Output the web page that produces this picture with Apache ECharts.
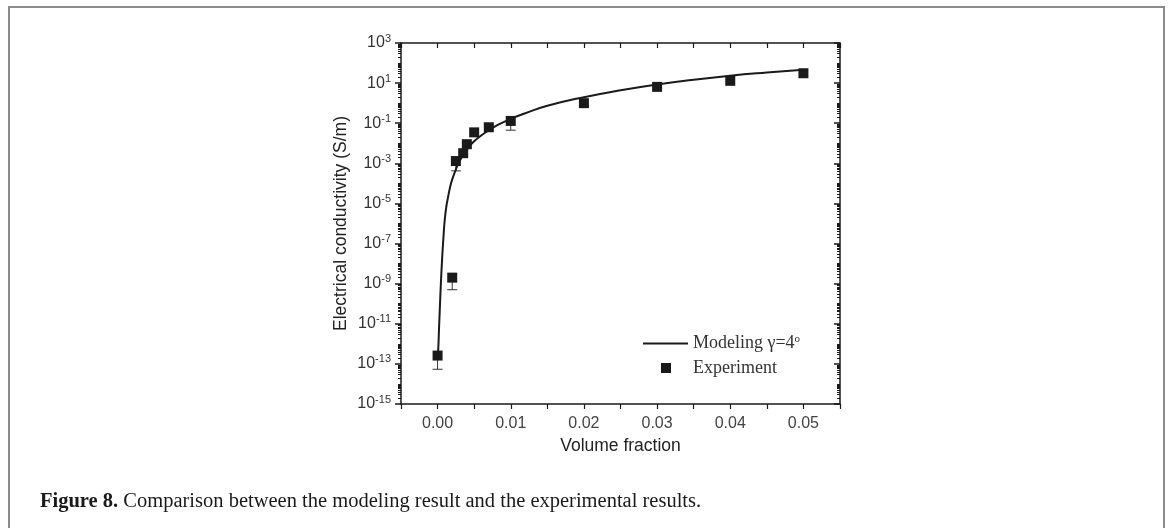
<!DOCTYPE html>
<html lang="en" style="height: 100%">
<head>
  <meta charset="utf-8">
</head>
<body style="height: 100%; margin: 0; background: #fff">
  <div id="container" style="width: 1170px; height: 528px"></div>

  <script type="text/javascript" src="https://cdn.jsdelivr.net/npm/echarts@6/dist/echarts.min.js"></script>
  <script type="text/javascript">
    // volume fraction ticks (labelled ones)
    const xTickLabels = ['0.00', '0.01', '0.02', '0.03', '0.04', '0.05'];
    // y axis labels: exponents of 10 (S/m)
    const yExponents = [-15, -13, -11, -9, -7, -5, -3, -1, 1, 3];

    // modeling curve: volume fraction / log10(sigma)
    const modelX = [0, 0.0001, 0.0002, 0.0003, 0.0004, 0.0005, 0.0006, 0.0007, 0.0008, 0.0009,
      0.001, 0.0012, 0.0014, 0.0017, 0.002, 0.0025, 0.003, 0.004, 0.005, 0.006, 0.007, 0.008,
      0.01, 0.012, 0.015, 0.02, 0.025, 0.03, 0.035, 0.04, 0.045, 0.05];
    const modelLog10 = [-12.7, -12.2, -11.2, -10.3, -9.4, -8.6, -7.9, -7.25, -6.7, -6.15,
      -5.75, -5.15, -4.75, -4.2, -3.8, -3.3, -2.9, -2.3, -1.9, -1.6, -1.35, -1.13,
      -0.78, -0.5, -0.13, 0.3, 0.64, 0.93, 1.17, 1.37, 1.53, 1.67];

    // experiment (S/m) and lower end of the error bar
    const exptX = [0, 0.002, 0.0025, 0.0035, 0.004, 0.005, 0.007, 0.01, 0.02, 0.03, 0.04, 0.05];
    const exptSigma = [2.6e-13, 2e-9, 1.3e-3, 3.2e-3, 9e-3, 3.5e-2, 6.3e-2, 0.13, 1.0, 6.5, 13, 31];
    const exptLow = [5.4e-14, 5e-10, 4.2e-4, null, null, null, null, 0.045, 0.72, null, null, null];

    const dom = document.getElementById('container');
    const myChart = echarts.init(dom, null, { renderer: 'canvas' });

    const ink = '#1a1a1a';
    const sans = 'Liberation Sans';
    const serif = 'Liberation Serif';

    // log sub ticks 2..9 inside each decade, plus the even decades
    const minorY = [];
    for (let n = -15; n < 3; n++) {
      for (let k = 1; k <= 9; k++) {
        if (k === 1 && (n % 2 !== 0)) continue;
        minorY.push(n + Math.log10(k));
      }
    }

    const modelData = modelX.map((x, i) => [x, modelLog10[i]]);
    const exptData = exptX.map((x, i) => [x, Math.log10(exptSigma[i])]);
    const errData = [];
    exptX.forEach((x, i) => {
      if (exptLow[i] != null) errData.push([x, Math.log10(exptSigma[i]), Math.log10(exptLow[i])]);
    });

    const renderErr = (params, api) => {
      const top = api.coord([api.value(0), api.value(1)]);
      const bot = api.coord([api.value(0), api.value(2)]);
      const st = { stroke: '#333', lineWidth: 1 };
      return {
        type: 'group',
        children: [
          { type: 'line', shape: { x1: top[0], y1: top[1], x2: bot[0], y2: bot[1] }, style: st },
          { type: 'line', shape: { x1: bot[0] - 5, y1: bot[1], x2: bot[0] + 5, y2: bot[1] }, style: st }
        ]
      };
    };

    const yLabelRich = {
      b: { fontFamily: sans, fontSize: 16, color: '#333' },
      s: { fontFamily: sans, fontSize: 11, color: '#333', padding: [0, 0, 9, 0] }
    };

    const baseY = {
      type: 'value', min: -15, max: 3, interval: 2,
      splitLine: { show: false }
    };
    const baseX = {
      type: 'value', min: -0.005, max: 0.055, interval: 0.005,
      splitLine: { show: false }
    };

    const option = {
      backgroundColor: '#fff',
      animation: false,
      title: {
        text: '{b|Figure 8.} Comparison between the modeling result and the experimental results.',
        left: 35,
        top: 486,
        textStyle: {
          fontFamily: serif, fontSize: 20.5, fontWeight: 'normal', color: '#1a1a1a',
          rich: { b: { fontFamily: serif, fontSize: 20.5, fontWeight: 'bold', color: '#1a1a1a' } }
        }
      },
      graphic: [
        {
          type: 'polyline',
          shape: { points: [[9, 528], [9, 7], [1164, 7], [1164, 528]] },
          style: { stroke: '#8c8c8c', lineWidth: 2, fill: null }
        }
      ],
      grid: { left: 401, top: 43, right: 330, bottom: 124 },
      legend: [
        {
          data: [{ name: 'Modeling γ=4°', icon: 'rect' }],
          left: 643, top: 334, padding: 0,
          itemWidth: 45, itemHeight: 2,
          formatter: () => 'Modeling γ=4{sup|o}',
          textStyle: {
            fontFamily: serif, fontSize: 18, color: '#333',
            rich: { sup: { fontFamily: serif, fontSize: 11, color: '#333', padding: [0, 0, 8, 0] } }
          }
        },
        {
          data: [{ name: 'Experiment', icon: 'rect' }],
          left: 661, top: 359, padding: 0,
          itemWidth: 10, itemHeight: 10,
          textStyle: { fontFamily: serif, fontSize: 18, color: '#333', padding: [0, 0, 0, 17] }
        }
      ],
      xAxis: [
        Object.assign({}, baseX, {
          position: 'bottom',
          name: 'Volume fraction',
          nameLocation: 'middle',
          nameGap: 33,
          nameTextStyle: { fontFamily: sans, fontSize: 17.5, color: '#222' },
          axisLine: { onZero: false, lineStyle: { color: ink, width: 1.5 } },
          axisTick: { length: 5, lineStyle: { color: ink, width: 1.2 } },
          axisLabel: {
            margin: 12,
            fontFamily: sans, fontSize: 16, color: '#444',
            formatter: (v) => {
              const i = Math.round(v * 100);
              return Math.abs(v * 100 - i) < 1e-6 && xTickLabels[i] != null ? xTickLabels[i] : '';
            }
          }
        }),
        Object.assign({}, baseX, {
          position: 'top',
          axisLine: { onZero: false, lineStyle: { color: ink, width: 1.5 } },
          axisTick: { inside: true, length: 5, lineStyle: { color: ink, width: 1.2 } },
          axisLabel: { show: false }
        })
      ],
      yAxis: [
        Object.assign({}, baseY, {
          position: 'left',
          name: 'Electrical conductivity (S/m)',
          nameLocation: 'middle',
          nameGap: 51,
          nameTextStyle: { fontFamily: sans, fontSize: 17.5, color: '#222' },
          axisLine: { onZero: false, lineStyle: { color: ink, width: 1.5 } },
          axisTick: { length: 6, lineStyle: { color: ink, width: 1.5 } },
          axisLabel: {
            margin: 10,
            customValues: yExponents,
            formatter: (v) => '{b|10}{s|' + v + '}',
            rich: yLabelRich
          }
        }),
        Object.assign({}, baseY, {
          position: 'left',
          axisLine: { show: false, onZero: false },
          axisTick: { length: 3, customValues: minorY, lineStyle: { color: ink, width: 1 } },
          axisLabel: { show: false }
        }),
        Object.assign({}, baseY, {
          position: 'right',
          axisLine: { onZero: false, lineStyle: { color: ink, width: 1.5 } },
          axisTick: { inside: true, length: 6, lineStyle: { color: ink, width: 1.5 } },
          axisLabel: { show: false }
        }),
        Object.assign({}, baseY, {
          position: 'right',
          axisLine: { show: false, onZero: false },
          axisTick: { inside: true, length: 3, customValues: minorY, lineStyle: { color: ink, width: 1 } },
          axisLabel: { show: false }
        })
      ],
      series: [
        {
          name: 'Modeling γ=4°',
          type: 'line',
          data: modelData,
          showSymbol: false,
          smooth: 0.5,
          itemStyle: { color: ink },
          lineStyle: { color: ink, width: 2 },
          z: 3
        },
        {
          name: 'errorbars',
          type: 'custom',
          renderItem: renderErr,
          data: errData,
          z: 2
        },
        {
          name: 'Experiment',
          type: 'scatter',
          data: exptData,
          symbol: 'rect',
          symbolSize: 10,
          itemStyle: { color: ink, opacity: 1 },
          z: 4
        }
      ]
    };

    myChart.setOption(option);
    window.addEventListener('resize', myChart.resize);
  </script>
</body>
</html>
